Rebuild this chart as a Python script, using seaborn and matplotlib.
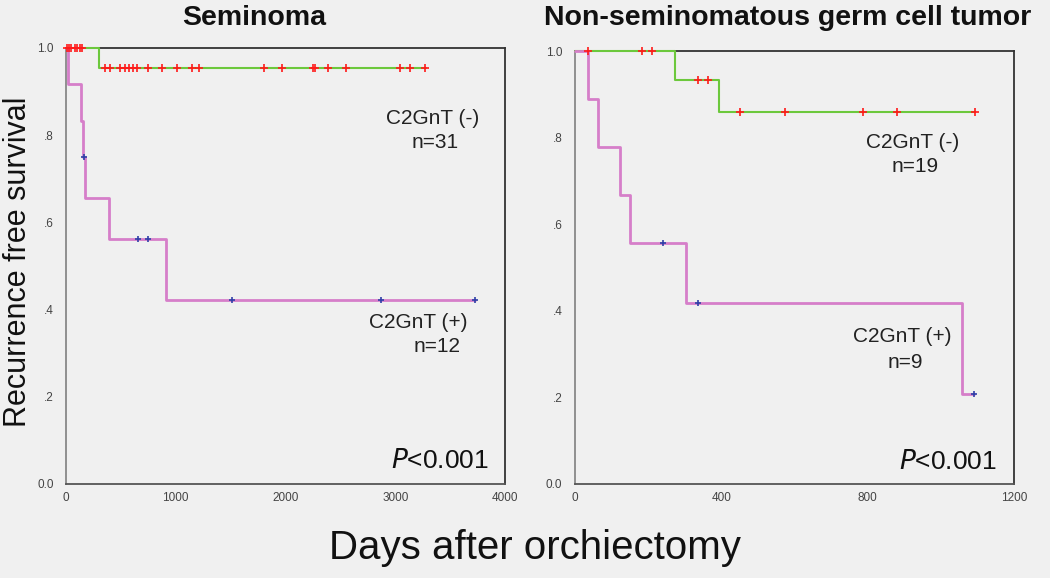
import numpy as np
import matplotlib
matplotlib.use("Agg")
import matplotlib.pyplot as plt
import seaborn as sns

# Seminoma, C2GnT (-) n=31
sem_neg_t = [0, 300, 3280]
sem_neg_s = [1.0, 0.955, 0.955]
sem_neg_cens = [5, 25, 50, 80, 100, 130, 150,
                355, 400, 490, 540, 575, 610, 645, 750, 875, 1010, 1150, 1210,
                1805, 1970, 2250, 2270, 2390, 2550, 3045, 3135, 3270]

# Seminoma, C2GnT (+) n=12
sem_pos_t = [0, 20, 135, 155, 175, 390, 910, 3730]
sem_pos_s = [1.0, 0.917, 0.833, 0.75, 0.656, 0.5625, 0.422, 0.422]
sem_pos_cens = [165, 655, 750, 1510, 2870, 3730]

# NSGCT, C2GnT (-) n=19
ns_neg_t = [0, 273, 393, 1093]
ns_neg_s = [1.0, 0.932, 0.858, 0.858]
ns_neg_cens = [35, 183, 211, 336, 363, 451, 574, 787, 880, 1093]

# NSGCT, C2GnT (+) n=9
ns_pos_t = [0, 35, 63, 123, 150, 303, 1057, 1090]
ns_pos_s = [1.0, 0.889, 0.778, 0.667, 0.556, 0.417, 0.208, 0.208]
ns_pos_cens = [241, 336, 1090]

ytick_vals = [0.0, 0.2, 0.4, 0.6, 0.8, 1.0]
ytick_labels = ["0.0", ".2", ".4", ".6", ".8", "1.0"]

BG = "#f0f0f0"
GREEN = "#6cc83c"
MAGENTA = "#d67ec9"
RED = "#ff1a1a"
BLUE = "#3040a8"

sns.set_style("white", {"axes.facecolor": BG, "figure.facecolor": BG})
plt.rcParams["font.family"] = ["Liberation Sans", "DejaVu Sans"]


def surv_at(times, surv, pts):
    idx = np.searchsorted(times, pts, side="right") - 1
    return np.asarray(surv)[idx]


def km_curve(ax, t, s, cens, line_col, mark_col, lw, msize):
    sns.lineplot(x=t, y=s, ax=ax, drawstyle="steps-post", color=line_col,
                 linewidth=lw, estimator=None, sort=False, zorder=3, clip_on=False)
    ys = surv_at(t, s, cens)
    sns.scatterplot(x=cens, y=ys, ax=ax, marker="+", s=msize, color=mark_col,
                    linewidth=1.2, zorder=4, clip_on=False)


def style_axes(ax, xmax, xticks):
    ax.set_xlim(0, xmax)
    ax.set_ylim(0, 1.0)
    ax.set_xticks(xticks)
    ax.set_xticklabels([str(v) for v in xticks])
    ax.set_yticks(ytick_vals)
    ax.set_yticklabels(ytick_labels)
    for lab in ax.get_xticklabels() + ax.get_yticklabels():
        lab.set_family(["Liberation Sans Narrow", "Liberation Sans"])
        lab.set_fontsize(8.5)
        lab.set_color("#444444")
    ax.tick_params(axis="x", direction="in", length=3, width=1, color="#555555", pad=6)
    ax.tick_params(axis="y", direction="out", length=5, width=1, color="#555555", pad=4)
    ax.spines["left"].set_color("#888888")
    ax.spines["bottom"].set_color("#555555")
    ax.spines["top"].set_color("#333333")
    ax.spines["right"].set_color("#333333")
    for sp in ax.spines.values():
        sp.set_linewidth(1.3)
    ax.set_xlabel("")
    ax.set_ylabel("")


fig = plt.figure(figsize=(10.5, 5.78), dpi=100)
fig.patch.set_facecolor(BG)

ax1 = fig.add_axes([66 / 1050, 1 - 484 / 578, 439 / 1050, 436 / 578])
km_curve(ax1, sem_neg_t, sem_neg_s, sem_neg_cens, GREEN, RED, 1.5, 30)
km_curve(ax1, sem_pos_t, sem_pos_s, sem_pos_cens, MAGENTA, BLUE, 2.0, 22)
style_axes(ax1, 4000, [0, 1000, 2000, 3000, 4000])

ax2 = fig.add_axes([575 / 1050, 1 - 484 / 578, 439 / 1050, 433 / 578])
km_curve(ax2, ns_neg_t, ns_neg_s, ns_neg_cens, GREEN, RED, 1.5, 30)
km_curve(ax2, ns_pos_t, ns_pos_s, ns_pos_cens, MAGENTA, BLUE, 2.0, 22)
style_axes(ax2, 1200, [0, 400, 800, 1200])


# labels inside the panels (pixel positions -> figure fraction)
def ftext(x, y, s, **kw):
    fig.text(x / 1050, 1 - y / 578, s, ha="center", va="center", **kw)


ftext(433, 118, "C2GnT (-)", fontsize=15, color="#222222")
ftext(435, 143, "n=31", fontsize=15, color="#222222")
ftext(418, 322, "C2GnT (+)", fontsize=15, color="#222222")
ftext(437, 347, "n=12", fontsize=15, color="#222222")
ftext(913, 142, "C2GnT (-)", fontsize=15, color="#222222")
ftext(915, 166, "n=19", fontsize=15, color="#222222")
ftext(902, 337, "C2GnT (+)", fontsize=15, color="#222222")
ftext(905, 362, "n=9", fontsize=15, color="#222222")

ftext(440, 461, "$\\it{P}$<0.001", fontsize=19, color="#111111")
ftext(948, 462, "$\\it{P}$<0.001", fontsize=19, color="#111111")

ftext(254, 18, "Seminoma", fontsize=20.5, fontweight="bold", color="#111111")
ftext(788, 18, "Non-seminomatous germ cell tumor", fontsize=20.5,
      fontweight="bold", color="#111111")

ftext(535, 548, "Days after orchiectomy", fontsize=29, color="#111111")
ftext(18, 262, "Recurrence free survival", fontsize=22, rotation=90, color="#111111")

fig.savefig("out.png", dpi=100, facecolor=BG)
